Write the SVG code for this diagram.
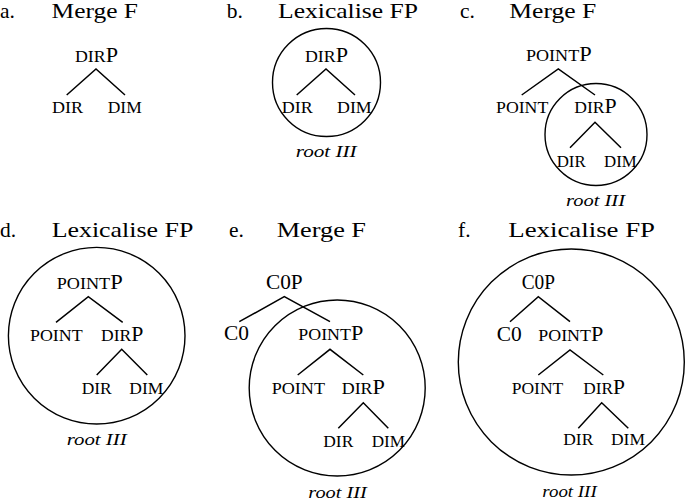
<svg xmlns="http://www.w3.org/2000/svg" width="685" height="500" viewBox="0 0 685 500">
<style>
text{font-family:"Liberation Serif","Times New Roman",serif;fill:#000}
.t{font-size:21.5px}
.sc{font-size:16.5px}
.bg{font-size:20.5px}
.r{font-size:16.5px;font-style:italic}
.e{stroke:#000;stroke-width:1.5;fill:none}
.c{stroke:#000;stroke-width:1.4;fill:none}
</style>
<rect width="685" height="500" fill="#fff"/>
<g id="panel-a">
<text class="t" x="0" y="17.5">a.</text>
<text class="t" x="51.5" y="17.5" textLength="86.5" lengthAdjust="spacingAndGlyphs">Merge F</text>
<g id="a-dirp"><text x="75" y="61.7" textLength="43" lengthAdjust="spacingAndGlyphs"><tspan class="sc">DIR</tspan><tspan class="bg">P</tspan></text></g>
<g id="a-dir"><text class="sc" x="52" y="113" textLength="31" lengthAdjust="spacingAndGlyphs">DIR</text></g>
<g id="a-dim"><text class="sc" x="107.7" y="113" textLength="34" lengthAdjust="spacingAndGlyphs">DIM</text></g>
</g>
<g id="panel-b">
<text class="t" x="226.7" y="17.5">b.</text>
<text class="t" x="278" y="17.5" textLength="140" lengthAdjust="spacingAndGlyphs">Lexicalise FP</text>
<circle class="c" cx="326.5" cy="82.5" r="54"/>
<g id="b-dirp"><text x="305" y="61.7" textLength="43" lengthAdjust="spacingAndGlyphs"><tspan class="sc">DIR</tspan><tspan class="bg">P</tspan></text></g>
<g id="b-dir"><text class="sc" x="281.7" y="113" textLength="31" lengthAdjust="spacingAndGlyphs">DIR</text></g>
<g id="b-dim"><text class="sc" x="337" y="113" textLength="34.7" lengthAdjust="spacingAndGlyphs">DIM</text></g>
<text class="r" x="295.7" y="156.7" textLength="61" lengthAdjust="spacingAndGlyphs">root III</text>
</g>
<g id="panel-c">
<text class="t" x="460" y="17.5">c.</text>
<text class="t" x="509.3" y="17.5" textLength="87" lengthAdjust="spacingAndGlyphs">Merge F</text>
<circle class="c" cx="596" cy="134.5" r="51"/>
<g id="c-pointp"><text x="526" y="61" textLength="65.7" lengthAdjust="spacingAndGlyphs"><tspan class="sc">POINT</tspan><tspan class="bg">P</tspan></text></g>
<g id="c-point"><text class="sc" x="496" y="113" textLength="52.3" lengthAdjust="spacingAndGlyphs">POINT</text></g>
<g id="c-dirp"><text x="574.3" y="113" textLength="42.4" lengthAdjust="spacingAndGlyphs"><tspan class="sc">DIR</tspan><tspan class="bg">P</tspan></text></g>
<g id="c-dir"><text class="sc" x="556.7" y="166.7" textLength="29" lengthAdjust="spacingAndGlyphs">DIR</text></g>
<g id="c-dim"><text class="sc" x="604" y="166.7" textLength="32.7" lengthAdjust="spacingAndGlyphs">DIM</text></g>
<text class="r" x="566" y="205.5" textLength="59" lengthAdjust="spacingAndGlyphs">root III</text>
</g>
<g id="panel-d">
<text class="t" x="0" y="236.7">d.</text>
<text class="t" x="51.7" y="236.7" textLength="141.6" lengthAdjust="spacingAndGlyphs">Lexicalise FP</text>
<circle class="c" cx="96.7" cy="335.7" r="88.3"/>
<g id="d-pointp"><text x="56.7" y="289" textLength="66" lengthAdjust="spacingAndGlyphs"><tspan class="sc">POINT</tspan><tspan class="bg">P</tspan></text></g>
<g id="d-point"><text class="sc" x="30" y="340.7" textLength="52.7" lengthAdjust="spacingAndGlyphs">POINT</text></g>
<g id="d-dirp"><text x="101" y="340.7" textLength="42.3" lengthAdjust="spacingAndGlyphs"><tspan class="sc">DIR</tspan><tspan class="bg">P</tspan></text></g>
<g id="d-dir"><text class="sc" x="81.7" y="394" textLength="30" lengthAdjust="spacingAndGlyphs">DIR</text></g>
<g id="d-dim"><text class="sc" x="129.3" y="394" textLength="34" lengthAdjust="spacingAndGlyphs">DIM</text></g>
<text class="r" x="66.7" y="445" textLength="60" lengthAdjust="spacingAndGlyphs">root III</text>
</g>
<g id="panel-e">
<text class="t" x="229" y="236.7">e.</text>
<text class="t" x="276.7" y="236.7" textLength="89.3" lengthAdjust="spacingAndGlyphs">Merge F</text>
<circle class="c" cx="337.2" cy="388" r="88"/>
<g id="e-c0p"><text class="bg" x="266" y="289" textLength="36.7" lengthAdjust="spacingAndGlyphs">C0P</text></g>
<g id="e-c0"><text class="bg" x="224" y="340" textLength="25" lengthAdjust="spacingAndGlyphs">C0</text></g>
<g id="e-pointp"><text x="298.3" y="340" textLength="65" lengthAdjust="spacingAndGlyphs"><tspan class="sc">POINT</tspan><tspan class="bg">P</tspan></text></g>
<g id="e-point"><text class="sc" x="271.7" y="394" textLength="53.3" lengthAdjust="spacingAndGlyphs">POINT</text></g>
<g id="e-dirp"><text x="341.7" y="394" textLength="43.3" lengthAdjust="spacingAndGlyphs"><tspan class="sc">DIR</tspan><tspan class="bg">P</tspan></text></g>
<g id="e-dir"><text class="sc" x="323.3" y="446.7" textLength="30" lengthAdjust="spacingAndGlyphs">DIR</text></g>
<g id="e-dim"><text class="sc" x="371.7" y="446.7" textLength="33.3" lengthAdjust="spacingAndGlyphs">DIM</text></g>
<text class="r" x="308.3" y="497.5" textLength="58.4" lengthAdjust="spacingAndGlyphs">root III</text>
</g>
<g id="panel-f">
<text class="t" x="458" y="236.5">f.</text>
<text class="t" x="508.3" y="236.5" textLength="146.7" lengthAdjust="spacingAndGlyphs">Lexicalise FP</text>
<circle class="c" cx="571.3" cy="362" r="113"/>
<g id="f-c0p"><text class="bg" x="521.7" y="289" textLength="33.3" lengthAdjust="spacingAndGlyphs">C0P</text></g>
<g id="f-c0"><text class="bg" x="496.7" y="340.5" textLength="25" lengthAdjust="spacingAndGlyphs">C0</text></g>
<g id="f-pointp"><text x="538.3" y="340.5" textLength="65" lengthAdjust="spacingAndGlyphs"><tspan class="sc">POINT</tspan><tspan class="bg">P</tspan></text></g>
<g id="f-point"><text class="sc" x="511.7" y="394" textLength="51.6" lengthAdjust="spacingAndGlyphs">POINT</text></g>
<g id="f-dirp"><text x="583.3" y="394" textLength="41.7" lengthAdjust="spacingAndGlyphs"><tspan class="sc">DIR</tspan><tspan class="bg">P</tspan></text></g>
<g id="f-dir"><text class="sc" x="563.3" y="445" textLength="30" lengthAdjust="spacingAndGlyphs">DIR</text></g>
<g id="f-dim"><text class="sc" x="611" y="445" textLength="34" lengthAdjust="spacingAndGlyphs">DIM</text></g>
<text class="r" x="542.3" y="496.7" textLength="54.4" lengthAdjust="spacingAndGlyphs">root III</text>
</g>
<g id="connectors" class="e">
<path d="M66.7,95 L96,69 L125,95"/>
<path d="M296.7,95 L326,69 L355,95"/>
<path d="M521.7,95 L558.3,69 L595,95"/>
<path d="M570,147.7 L595,122.3 L621,147.7"/>
<path d="M56,322.3 L88.3,296.7 L122.7,322.3"/>
<path d="M96.7,375 L121.7,349.3 L147.3,375"/>
<path d="M239.3,321.7 L284.3,296.7 L330,321.7"/>
<path d="M297.7,375 L330,349.3 L363.3,375"/>
<path d="M338.3,428.3 L363.3,402.7 L388.3,428.3"/>
<path d="M510,321.7 L538.3,296.7 L570,321.7"/>
<path d="M538.3,375 L570,350 L603.3,375"/>
<path d="M578.3,428.3 L601.7,402.7 L628.3,428.3"/>
</g>
</svg>
